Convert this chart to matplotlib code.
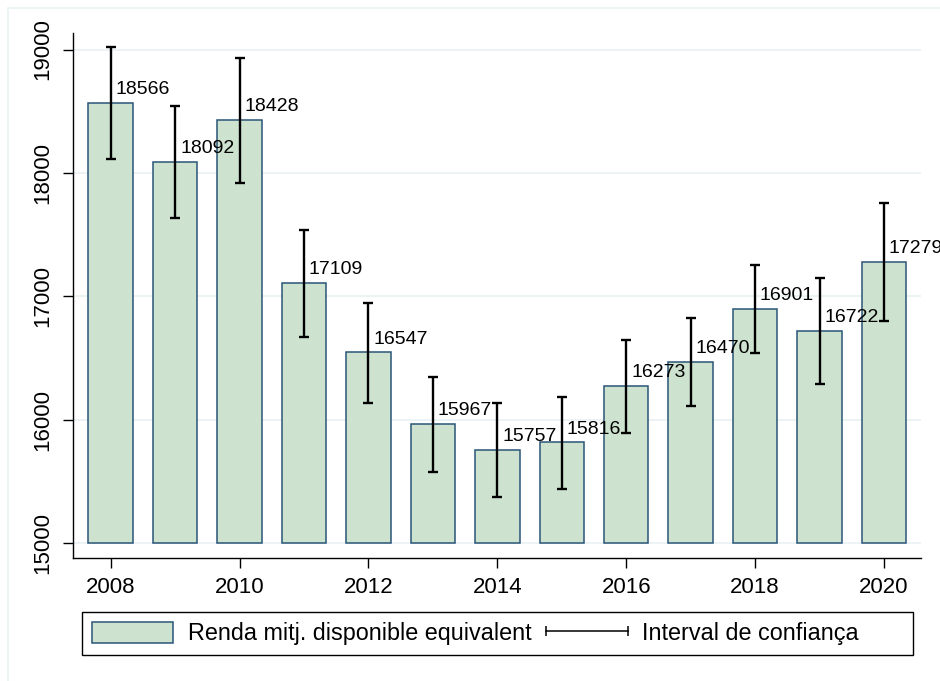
"""Bar chart of mean equivalent disposable income with confidence intervals."""

import matplotlib
matplotlib.use("Agg")
import matplotlib.pyplot as plt
from matplotlib.lines import Line2D
from matplotlib.patches import Patch, Rectangle
from matplotlib.legend_handler import HandlerLine2D

years = [2008, 2009, 2010, 2011, 2012, 2013, 2014, 2015, 2016, 2017, 2018, 2019, 2020]
renda = [18566, 18092, 18428, 17109, 16547, 15967, 15757, 15816, 16273, 16470, 16901, 16722, 17279]
ci_low = [18110, 17632, 17921, 16673, 16138, 15576, 15374, 15438, 15892, 16109, 16538, 16292, 16797]
ci_high = [19023, 18542, 18929, 17537, 16948, 16348, 16133, 16186, 16646, 16824, 17256, 17146, 17754]
y_ticks = [15000, 16000, 17000, 18000, 19000]
x_ticks = [2008, 2010, 2012, 2014, 2016, 2018, 2020]

base = 15000
bar_fill = "#cee3cf"
bar_edge = "#2a5578"
grid_col = "#eaf2f3"

plt.rcParams["font.family"] = ["Liberation Sans", "DejaVu Sans"]

W, H = 940, 681
fig = plt.figure(figsize=(W / 100, H / 100), dpi=100)
fig.patch.set_facecolor("white")

# faint outer frame (graph region)
fig.add_artist(Rectangle((8 / W, -0.1), 1.2, 1 - 8 / H + 0.1,
                         transform=fig.transFigure, fill=False,
                         edgecolor=grid_col, linewidth=1.2))

ax = fig.add_axes([73 / W, 1 - 558 / H, (921 - 73) / W, (558 - 33) / H])
ax.set_facecolor("white")

heights = [v - base for v in renda]
ax.bar(years, heights, bottom=base, width=0.69, color=bar_fill,
       edgecolor=bar_edge, linewidth=1.1, zorder=2)

yerr = [[m - lo for m, lo in zip(renda, ci_low)],
        [hi - m for m, hi in zip(renda, ci_high)]]
ax.errorbar(years, renda, yerr=yerr, fmt="none", ecolor="black",
            elinewidth=1.7, capsize=3.4, capthick=1.7, zorder=3)

for x, v in zip(years, renda):
    ax.annotate(str(v), (x, v), xytext=(3.5, 9.5), textcoords="offset points",
                ha="left", va="center", fontsize=14, zorder=4)

ax.set_xlim(2007.415, 2020.574)
ax.set_ylim(14879, 19134)
ax.set_yticks(y_ticks)
ax.set_xticks(x_ticks)
ax.yaxis.grid(True, color=grid_col, linewidth=1.3, zorder=0)
ax.set_axisbelow(True)

for side in ("top", "right"):
    ax.spines[side].set_visible(False)
for side in ("left", "bottom"):
    ax.spines[side].set_linewidth(1.0)

ax.tick_params(axis="both", length=7, width=1.0, pad=7, labelsize=16)
ax.tick_params(axis="y", labelrotation=90)
for lab in ax.get_yticklabels():
    lab.set_va("center")

bar_handle = Patch(facecolor=bar_fill, edgecolor=bar_edge, linewidth=1.1)
ci_handle = Line2D([0, 1], [0, 0], color="black", linewidth=1.1,
                   marker="|", markersize=7, markeredgewidth=1.1)

# legend box is wider than its contents, so draw the frame separately
leg_box = (82, 612, 913, 655)
fig.add_artist(Rectangle((leg_box[0] / W, 1 - leg_box[3] / H),
                         (leg_box[2] - leg_box[0]) / W,
                         (leg_box[3] - leg_box[1]) / H,
                         transform=fig.transFigure, fill=False,
                         edgecolor="black", linewidth=1.0))

fig.legend([bar_handle, ci_handle],
           ["Renda mitj. disponible equivalent", "Interval de confiança"],
           loc="center left",
           bbox_to_anchor=(leg_box[0] / W, 1 - (leg_box[1] + leg_box[3]) / 2 / H),
           ncol=2, fontsize=16.8, frameon=False,
           handlelength=3.5, handleheight=1.0, handletextpad=0.62,
           columnspacing=0.62, borderpad=0.42, borderaxespad=0,
           handler_map={ci_handle: HandlerLine2D(numpoints=2, marker_pad=0)})

fig.savefig("out.png", dpi=100, facecolor="white")
plt.close(fig)
